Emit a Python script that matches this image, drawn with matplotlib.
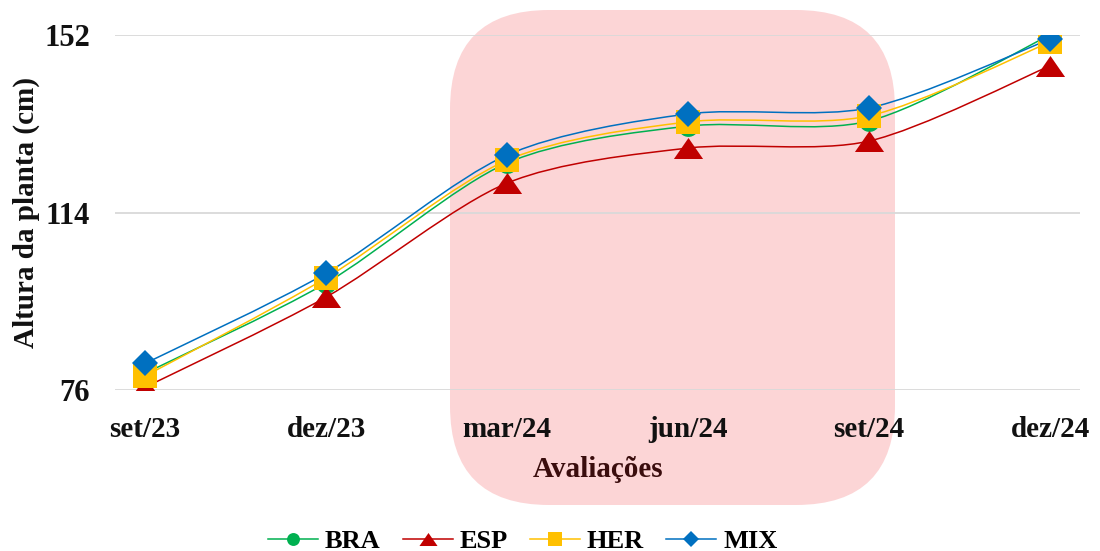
import matplotlib.pyplot as plt
import matplotlib.patches as mpatches
from matplotlib.path import Path
from matplotlib.lines import Line2D
import numpy as np

plt.rcParams['font.family'] = ['Liberation Serif', 'DejaVu Serif']
plt.rcParams['font.weight'] = 'bold'
plt.rcParams['axes.labelweight'] = 'bold'

meses = ['set/23', 'dez/23', 'mar/24', 'jun/24', 'set/24', 'dez/24']
bra = [79.6, 98.9, 124.6, 132.5, 133.6, 152.0]
esp = [76.6, 95.9, 120.3, 127.8, 129.3, 145.4]
her = [79.0, 100.0, 125.2, 133.4, 134.7, 150.5]
mix = [81.7, 101.0, 126.3, 135.1, 136.4, 151.1]
yticks = [76, 114, 152]

tri = [(-1, -0.72), (1, -0.72), (0, 0.72)]
series = [
    ('BRA', bra, '#00b050', 'o', 15),
    ('ESP', esp, '#c00000', tri, 21),
    ('HER', her, '#ffc000', 's', 17),
    ('MIX', mix, '#0070c0', 'D', 13),
]


def smooth_path(x, y, k=7.0):
    # curva suave tipo Excel (Catmull-Rom em Bezier cubica)
    pts = np.column_stack([x, y]).astype(float)
    verts = [pts[0]]
    codes = [Path.MOVETO]
    n = len(pts)
    for i in range(n - 1):
        p0 = pts[i - 1] if i > 0 else pts[i]
        p1 = pts[i]
        p2 = pts[i + 1]
        p3 = pts[i + 2] if i + 2 < n else pts[i + 1]
        c1 = p1 + (p2 - p0) / k
        c2 = p2 - (p3 - p1) / k
        verts += [c1, c2, p2]
        codes += [Path.CURVE4] * 3
    return Path(verts, codes)


fig = plt.figure(figsize=(11, 5.51), dpi=100)
ax = fig.add_axes([0.1045, 0.292, 0.8775, 0.6445])
ax.set_zorder(2)
ax.set_facecolor('none')

# destaque rosa atras do periodo mar/24 - set/24
box = mpatches.FancyBboxPatch((450 / 1100 + 0.045, 46 / 551 + 0.09),
                              (895 - 450) / 1100 - 0.09, (505 - 10) / 551 - 0.18,
                              boxstyle='round,pad=0.045,rounding_size=0.09',
                              mutation_aspect=2.0,
                              transform=fig.transFigure, facecolor='#fcd5d6',
                              edgecolor='none', zorder=-1)
fig.patches.append(box)

x = np.arange(len(meses))
handles = []
for nome, vals, cor, mk, ms in series:
    ax.add_patch(mpatches.PathPatch(smooth_path(x, vals), facecolor='none',
                                    edgecolor=cor, lw=1.1, zorder=3))
    ax.plot(x, vals, linestyle='none', marker=mk, markersize=ms, color=cor,
            markeredgewidth=0, zorder=4)
    handles.append(Line2D([], [], color=cor, lw=1.1, marker=mk,
                          markersize=ms * 0.62, markeredgewidth=0, label=nome))

ax.set_xlim(-0.166, 5.166)
ax.set_ylim(76, 152)
ax.set_yticks(yticks)
ax.set_xticks(x)
ax.set_xticklabels(meses)
ax.grid(axis='y', color='#d9d9d9', lw=1.3, zorder=1)
ax.set_axisbelow(True)
for s in ax.spines.values():
    s.set_visible(False)
ax.tick_params(length=0, colors='#111111')
ax.tick_params(axis='y', pad=18, labelsize=22)
ax.tick_params(axis='x', pad=19, labelsize=21)

ax.set_xlabel('Avaliações', fontsize=21, fontweight='bold', color='#3a0d0d',
              labelpad=9)
ax.set_ylabel('Altura da planta (cm)', fontsize=21, fontweight='bold',
              color='#111111', labelpad=3)

fig.legend(handles=handles, loc='center', bbox_to_anchor=(0.475, 0.018),
           ncol=4, frameon=False, fontsize=19, handlelength=1.9,
           handletextpad=0.25, columnspacing=0.85)

fig.savefig('out.png', dpi=100)
